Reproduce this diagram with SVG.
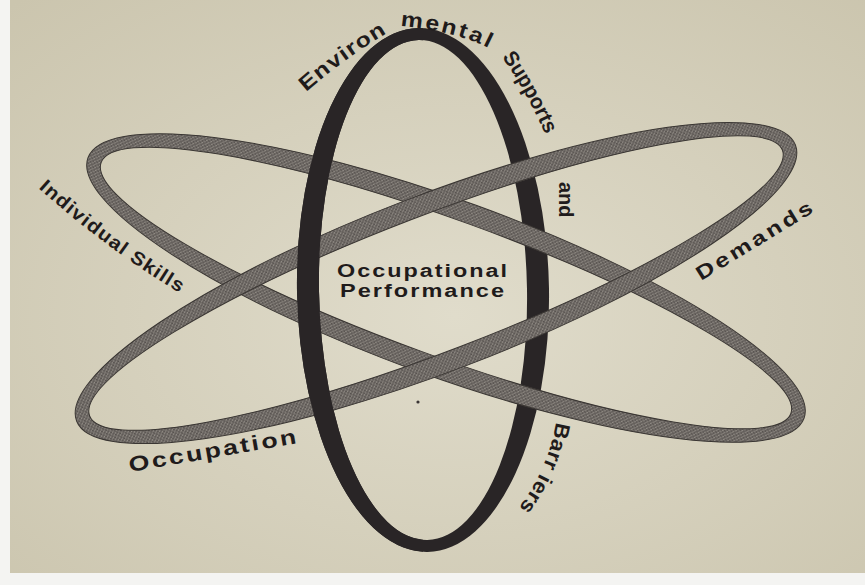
<svg xmlns="http://www.w3.org/2000/svg" width="865" height="585" viewBox="0 0 865 585">
<defs>
<radialGradient id="bg" cx="0.52" cy="0.55" r="0.75">
<stop offset="0" stop-color="#e0dccb"/>
<stop offset="1" stop-color="#cbc5ae"/>
</radialGradient>
<pattern id="hatch" width="4" height="4" patternUnits="userSpaceOnUse">
<rect width="4" height="4" fill="#6c6763"/>
<path d="M0,4 L4,0" stroke="#938e87" stroke-width="1"/>
<path d="M0,0 L4,4" stroke="#4a4643" stroke-width="0.7"/>
</pattern>
<clipPath id="frontHalf"><rect x="0" y="0" width="423" height="585"/></clipPath>
<path id="vring" fill-rule="evenodd" d="M297,290 a126,262 0 1,0 252,0 a126,262 0 1,0 -252,0 Z M319,290 a104,250 0 1,0 208,0 a104,250 0 1,0 -208,0 Z"/>
<path id="pInd" d="M36,186 Q110.5,253 190,299"/>
<path id="pEnv" d="M306,92 Q345,58 389,32"/>
<path id="pMen" d="M400,26 Q456.5,31 490.5,49"/>
<path id="pSup" d="M502,57 Q526,91 545,134"/>
<path id="pBar" d="M556,422 Q548,470 517,510"/>
</defs>
<style>
.t{font-family:"Liberation Sans",Arial,sans-serif;font-weight:bold;fill:#1f1b1b;}
.ring{fill:#292526;}
.gray{fill:url(#hatch);fill-rule:evenodd;stroke:#3a3633;stroke-width:1;}
</style>
<rect x="0" y="0" width="865" height="585" fill="#f4f4f2"/>
<rect x="10" y="0" width="855" height="573" fill="url(#bg)"/>

<g id="ring-environment-back">
<use href="#vring" class="ring" transform="rotate(-1,423,290)"/>
</g>
<g id="ring-a">
<path class="gray" transform="translate(446,288) rotate(20)" d="M-381,0 a381,88 0 1,0 762,0 a381,88 0 1,0 -762,0 Z M-367,0 a367,68 0 1,0 734,0 a367,68 0 1,0 -734,0 Z"/>
</g>
<g id="ring-b">
<path class="gray" transform="translate(436,283) rotate(-21)" d="M-385,0 a385,88 0 1,0 770,0 a385,88 0 1,0 -770,0 Z M-371,0 a371,68 0 1,0 742,0 a371,68 0 1,0 -742,0 Z"/>
</g>
<g id="ring-environment-front" clip-path="url(#frontHalf)">
<use href="#vring" class="ring" transform="rotate(-1,423,290)"/>
</g>

<g id="labels">
<text class="t" font-size="17.5" letter-spacing="1.5" x="337" y="276.5" textLength="172" lengthAdjust="spacingAndGlyphs">Occupational</text>
<text class="t" font-size="17.5" letter-spacing="1.5" x="340" y="297" textLength="166" lengthAdjust="spacingAndGlyphs">Performance</text>
<text class="t" font-size="19" letter-spacing="1"><textPath href="#pInd" startOffset="3" textLength="177" lengthAdjust="spacingAndGlyphs">Individual Skills</textPath></text>
<text class="t" font-size="21" letter-spacing="2" transform="translate(130,472) rotate(-9.8)" textLength="172" lengthAdjust="spacingAndGlyphs">Occupation</text>
<text class="t" font-size="20" letter-spacing="2.5" transform="translate(701,281) rotate(-31.5)" textLength="136" lengthAdjust="spacingAndGlyphs">Demands</text>
<text class="t" font-size="20" transform="translate(559,182) rotate(90)">and</text>
<text class="t" font-size="21" letter-spacing="0.5"><textPath href="#pBar" textLength="95" lengthAdjust="spacingAndGlyphs">Barr iers</textPath></text>
<text class="t" font-size="21" letter-spacing="1"><textPath href="#pEnv" textLength="101" lengthAdjust="spacingAndGlyphs">Environ</textPath></text>
<text class="t" font-size="21" letter-spacing="2"><textPath href="#pMen" textLength="94" lengthAdjust="spacingAndGlyphs">mental</textPath></text>
<text class="t" font-size="21"><textPath href="#pSup" textLength="89" lengthAdjust="spacingAndGlyphs">Supports</textPath></text>
</g>
<circle cx="418" cy="402" r="1.6" fill="#3a3534"/>
</svg>
